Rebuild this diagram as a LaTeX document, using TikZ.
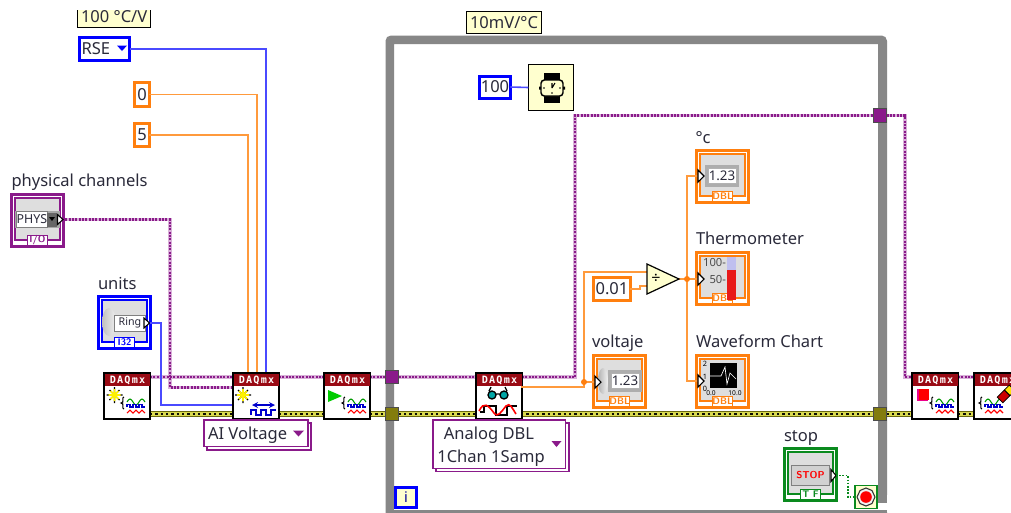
\documentclass[tikz,border=0pt]{standalone}
\usepackage{fontspec}
\setmainfont{Noto Sans}
\newfontfamily\daqf[LetterSpace=12]{DejaVu Sans Mono}
\usetikzlibrary{calc}
\definecolor{tskP}{HTML}{8A1A8A}
\definecolor{tskL}{HTML}{D8B0D8}
\definecolor{dblO}{HTML}{FF7F0E}
\definecolor{wireO}{HTML}{FF9A3C}
\definecolor{intB}{HTML}{0000FF}
\definecolor{wireB}{HTML}{4A4AFF}
\definecolor{boolG}{HTML}{0A8A1E}
\definecolor{errY}{HTML}{DADA50}
\definecolor{errD}{HTML}{6A6A10}
\definecolor{paleY}{HTML}{FFFFCF}
\definecolor{frameG}{HTML}{878787}
\definecolor{darkR}{HTML}{990A14}
\definecolor{txt}{HTML}{2A2A3A}
\definecolor{panel}{HTML}{DEDEDE}
\tikzset{
  x=0.75pt,y=-0.75pt,
  every node/.style={inner sep=0pt,outer sep=0pt,text=txt},
  lbl/.style={anchor=base west,font=\fontsize{12.4}{14}\selectfont},
  ctxt/.style={font=\fontsize{12.4}{14}\selectfont},
  const/.style={draw=#1,line width=2.25pt,fill=white,ctxt,minimum width=0pt},
  note/.style={draw=black,line width=0.75pt,fill=paleY,ctxt},
  owire/.style={draw=wireO,line width=1.2pt},
  bwire/.style={draw=wireB,line width=1.2pt},
  pwireA/.style={draw=tskL,line width=2.6pt},
  pwireB/.style={draw=tskP,line width=1.9pt,dash pattern=on 1.5pt off 1pt},
  ewire0/.style={draw=errD,line width=3.8pt},
  ewireA/.style={draw=errY,line width=2.6pt},
  ewireB/.style={draw=black!90!errD,line width=1.8pt,dash pattern=on 1.8pt off 2.2pt},
  gwire/.style={draw=boolG,line width=1.1pt,dash pattern=on 1.2pt off 1.2pt},
  tunnel/.style={draw=black!70,line width=0.9pt,fill=#1,minimum width=10pt,minimum height=10pt},
  ring/.style={draw=tskP,line width=0.9pt,fill=white},
  block/.style={draw=black,line width=1pt,fill=white,anchor=north west,minimum width=34.5pt,minimum height=34.5pt},
  termtri/.style={draw=black,line width=0.8pt,fill=white},
}
% indicator / control terminal: #1 name, #2 x, #3 y, #4 colour, #5 tag
\newcommand\termbox[5]{%
  \node[draw=#4,line width=1.9pt,fill=white,minimum width=39.2pt,minimum height=39.2pt,anchor=north west] (#1) at (#2+1.3,#3+1.3) {};
  \fill[panel,draw=#4,line width=1.2pt] (#2+4.8,#3+4.8) rectangle (#2+50.2,#3+47);
  \node[fill=white,draw=#4,line width=0.7pt,minimum width=15.5pt,minimum height=8pt,text=#4,font=\sffamily\bfseries\fontsize{7.2}{8}\selectfont] at (#2+27.5,#3+47.5) {#5};
}
\newcommand\waves[2]{%
  \begin{scope}[shift={(#1,#2)},line width=0.8pt]
    \draw[black] (-3,-5) .. controls (-6,-5) and (-2,1) .. (-6,1) .. controls (-2,1) and (-6,7) .. (-3,7);
    \draw[green!60!black] (0,0) sin (3,-3) cos (6,0) sin (9,3) cos (12,0) sin (15,-3) cos (18,0);
    \draw[blue!80!black,line width=1pt] (0,5) -- (0,2.5) -- (3,2.5) -- (3,5) -- (6,5) -- (6,2.5) -- (9,2.5) -- (9,5) -- (12,5) -- (12,2.5) -- (15,2.5) -- (15,5) -- (18,5);
    \draw[red] (0,11) -- (3,8) -- (6,11) -- (9,8) -- (12,11) -- (15,8) -- (18,11);
  \end{scope}}
\newcommand\sparkle[2]{%
  \begin{scope}[shift={(#1,#2)}]
    \draw[black,line width=0.9pt] (-8,0)--(8,0) (0,-8)--(0,8) (-5,-5)--(5,5) (-5,5)--(5,-5);
    \draw[yellow,line width=1.2pt] (-6,0)--(6,0) (0,-6)--(0,6) (-4,-4)--(4,4) (-4,4)--(4,-4);
  \end{scope}}
% DAQ block: name, x, y
\newcommand\daq[3]{%
  \node[block] (#1) at (#2,#3) {};
  \fill[darkR] (#2+1,#3+1) rectangle (#2+46,#3+13);
  \node[text=white,font=\daqf\bfseries\fontsize{7.6}{8}\selectfont] at (#2+23.5,#3+7) {DAQmx};
}
\begin{document}
\begin{tikzpicture}
\useasboundingbox (0,0) rectangle (1011,512);
\fill[white] (0,0) rectangle (1011,512);
\clip (0,0) rectangle (1011,512);

% while loop frame
\fill[frameG,even odd rule,rounded corners=4pt] (385.5,35.5) rectangle (887,530) (394,44) [sharp corners] rectangle (878,503);
\fill[white] (394,503) rectangle (890,509.5);
\fill[white] (887,495) rectangle (892,512);
\fill[frameG] (878,44) rectangle (887,503);

% tunnels coordinates
\node[tunnel=tskP] (tp1) at (392,377) {};
\node[tunnel={olive!90!black}] (te1) at (392,414) {};
\node[tunnel=tskP] (tp2) at (880,115.5) {};
\node[tunnel={olive!90!black}] (te2) at (880,414) {};

% blocks (named first so wires can refer to them)
\coordinate (d1e) at (150,377); \coordinate (d1r) at (150,414);
\coordinate (d2l) at (233,377); \coordinate (d2r) at (279,377); \coordinate (d2el) at (233,414); \coordinate (d2er) at (279,414);
\coordinate (d2in1) at (248,373); \coordinate (d2in2) at (257,373); \coordinate (d2in3) at (266,373);
\coordinate (d2c) at (233,387.5); \coordinate (d2u) at (233,405);
\coordinate (d3l) at (324,377); \coordinate (d3r) at (370,377); \coordinate (d3el) at (324,414); \coordinate (d3er) at (370,414);
\coordinate (d4p) at (476,377); \coordinate (d4el) at (476,414); \coordinate (d4er) at (521,414); \coordinate (d4o) at (521,387);
\coordinate (d5l) at (912,377); \coordinate (d5r) at (958,377); \coordinate (d5el) at (912,414); \coordinate (d5er) at (958,414);
\coordinate (d6l) at (974,377); \coordinate (d6el) at (974,414);

% error wire
\foreach \s in {ewire0,ewireA,ewireB}{
  \draw[\s] (d1r) -- (d2el);
  \draw[\s] (d2er) -- (d3el);
  \draw[\s] (d3er) -- (te1) -- (d4el);
  \draw[\s] (d4er) -- (te2) -- (d5el);
  \draw[\s] (d5er) -- (d6el);
}
% task wire
\coordinate (tb1) at (575,377); \coordinate (tb2) at (575,115.5);
\coordinate (tb3) at (905,115.5); \coordinate (tb4) at (905,377);
\coordinate (ph1) at (170,219.5); \coordinate (ph2) at (170,387.5);
\foreach \s in {pwireA,pwireB}{
  \draw[\s] (d1e) -- (d2l);
  \draw[\s] (d2r) -- (d3l);
  \draw[\s] (d3r) -- (tp1) -- (tb1) -- (tb2) -- (tp2) -- (tb3) -- (tb4) -- (d5l);
  \draw[\s] (d5r) -- (d6l);
  \draw[\s] (62,219.5) -- (ph1) -- (ph2) -- (d2c);
}
\node[tunnel=tskP] at (tp1) {};
\node[tunnel={olive!90!black}] at (te1) {};
\node[tunnel=tskP] at (tp2) {};
\node[tunnel={olive!90!black}] at (te2) {};

% top note (clipped at the top)
\begin{scope}
\clip (60,10) rectangle (170,30);
\node[note,minimum width=55pt,minimum height=15.5pt,anchor=south west] (noteC) at (77.5,27) {100 °C/V};
\end{scope}

% constants
\node[const=intB,minimum width=37.5pt,minimum height=17pt] (rse) at (104.5,49) {};
\node[ctxt,anchor=base west] (rset) at (81.5,54) {RSE};
\fill[intB] (117,45.5) -- (127,45.5) -- (122,51) -- cycle;
\node[const=dblO,minimum width=11pt,minimum height=17.5pt] (c0) at (142,94.5) {0};
\node[const=dblO,minimum width=11pt,minimum height=17.5pt] (c5) at (142,135) {5};
\draw[bwire] (rse.east) -| (d2in3);
\draw[owire] (c0.east) -| (d2in2);
\draw[owire] (c5.east) -| (d2in1);

% physical channels
\node[lbl] (lphys) at (11.5,186) {physical channels};
\termbox{phys}{10}{193}{tskP}{I/O}
\fill[black!35] (15,211) rectangle (60,228);
\node[draw=black!50,line width=.4pt,fill=white,minimum width=23pt,minimum height=12pt,font=\fontsize{9.3}{10}\selectfont] (physin) at (32,219.5) {PHYS};
\fill[black!60] (47,213) rectangle (57,227);
\fill[black] (49,217) -- (55,217) -- (52,221) -- cycle;
\draw[termtri] (57.5,214.5) -- (63,219.5) -- (57.5,224.5) -- cycle;

% units
\node[lbl] (lunits) at (98,289) {units};
\termbox{units}{97}{295}{intB}{I32}
\shade[left color=black!25,right color=black!6] (109,322) ellipse (7 and 14);
\node[draw=black!50,line width=.4pt,fill=white,minimum width=23pt,minimum height=12pt,font=\bfseries\fontsize{8}{9}\selectfont] (ringin) at (130,323) {Ring};
\draw[termtri] (144,318) -- (149.5,323) -- (144,328) -- cycle;
\coordinate (ub1) at (161,323); \coordinate (ub2) at (161,405);
\draw[bwire] (150,323) -- (ub1) -- (ub2) -- (d2u);

% DAQ blocks
\daq{d1}{104}{373}
\sparkle{114.5}{395}
\waves{127}{402}
\daq{d2}{233}{373}
\sparkle{243}{395}
\draw[blue!80!black,line width=1pt,<->,>=stealth] (252,405) -- (275,405);
\draw[blue!80!black,line width=1.1pt] (251,415) -- (251,410) -- (256,410) -- (256,415) -- (261,415) -- (261,410) -- (266,410) -- (266,415) -- (271,415) -- (271,410) -- (276,410);
\daq{d3}{324}{373}
\fill[green!80!black] (328,390) -- (328,402) -- (342,396) -- cycle;
\waves{348}{402}
\daq{d4}{476}{373}
\begin{scope}[shift={(498,395)}]
  \fill[teal!70!cyan] (-6,0) circle (4) (6,0) circle (4);
  \draw[black,line width=1pt] (-6,0) circle (4) (6,0) circle (4) (-2,-1)--(2,-1) (-9,-4)--(-7,-8) (9,-4)--(7,-8);
\end{scope}
\draw[black,line width=.9pt] (480,412) -- (484,412) -- (484,406) -- (496,406) -- (496,415) -- (507,415) -- (507,406) -- (517,406);
\draw[red,line width=1.2pt] (479,411) .. controls (484,401) and (488,405) .. (494,413) .. controls (498,418) and (501,412) .. (506,406) .. controls (510,402) and (512,408) .. (516,414);
\daq{d5}{912}{373}
\fill[magenta] (917,389) rectangle (928,401);
\fill[red] (918.5,388.5) rectangle (929,399.5);
\waves{936}{402}
\daq{d6}{974}{373}
\waves{985}{402}
\begin{scope}[shift={(1005,395)},rotate=-45]
  \fill[yellow!85!orange,draw=black,line width=.6pt] (-4,-10) rectangle (4,-3);
  \fill[red!80!black,draw=black,line width=.6pt] (-4,-3) rectangle (4,7);
\end{scope}

% rings
\fill[white] (207,423) rectangle (311,450);
\draw[ring] (207,423) rectangle (311,450);
\node[ring,anchor=north west,minimum width=78pt,minimum height=20pt] (aiv) at (204,420) {};
\node[ctxt,anchor=base west] at (208,439) {AI Voltage};
\fill[tskP] (293,430.5) -- (304,430.5) -- (298.5,436.5) -- cycle;

\fill[white] (436,423) rectangle (569,471.5);
\draw[ring] (436,423) rectangle (569,471.5);
\node[ring,anchor=north west,minimum width=99.5pt,minimum height=36.5pt] (anl) at (433,420) {};
\node[ctxt,anchor=base] at (489,439) {Analog DBL};
\node[ctxt,anchor=base] at (491,462) {1Chan 1Samp};
\fill[tskP] (551.5,441) -- (561.5,441) -- (556.5,447) -- cycle;

% timer
\node[note,minimum width=34pt,minimum height=34pt] (tmr) at (551,87.5) {};
\node[const=intB,minimum width=23pt,minimum height=16.5pt] (c100) at (495,87) {100};
\draw[bwire] (c100.east) -- (tmr.west);
\begin{scope}[shift={(552,88)}]
  \fill[black] (-8,-15) rectangle (8,15);
  \draw[fill=paleY,draw=black,line width=1.1pt,rounded corners=2.5pt] (-11,-8) rectangle (11,8);
  \fill[black] (11,-1.5) rectangle (13,1.5) (-13,-1.5) rectangle (-11,1.5);
  \draw[black,line width=.8pt] (0,0) -- (3,-5) (0,0)--(0,-5);
  \fill[black] (0,5) circle (.8) (-8,0) circle (.8) (8,0) circle (.8);
\end{scope}

% note 10mV
\node[note,minimum width=56pt,minimum height=17pt] (note10) at (504,22.5) {10mV/°C};

% numeric indicators
\termbox{volt}{592}{354}{dblO}{DBL}
\termbox{degc}{695}{149}{dblO}{DBL}
\termbox{therm}{695}{251}{dblO}{DBL}
\termbox{chart}{695}{354}{dblO}{DBL}
\node[lbl] at (592,347) {voltaje};
\node[lbl] at (695.5,143) {°c};
\node[lbl] at (696,244) {Thermometer};
\node[lbl] at (696,347) {Waveform Chart};

% numeric contents
\newcommand\numin[3]{%
  \fill[black!32] (#1-17,#2-11) rectangle (#1+17,#2+11);
  \node[draw=black!30,line width=.4pt,fill=white,minimum width=21pt,minimum height=11pt,font=\fontsize{10}{11}\selectfont] (#3) at (#1,#2) {1.23};}
\numin{722}{175.5}{degcn}
\numin{625}{381}{voltn}
\shade[left color=black!30,right color=black!5] (603,381) ellipse (5 and 13);
% thermometer
\node[font=\fontsize{8.4}{9}\selectfont,anchor=east,text=black!70] at (726,262) {100-};
\node[font=\fontsize{8.4}{9}\selectfont,anchor=east,text=black!70] at (726,279) {50-};
\fill[red!90!black!90!white] (727,270) rectangle (736,300);
\fill[black!25!blue!25] (727,257) rectangle (736,270);
% chart
\fill[black] (710,363) rectangle (737,388);
\draw[white,line width=.5pt] (710,376) -- (721,376) -- (725,367) -- (727,384) -- (730,373) -- (736,379);
\node[font=\bfseries\fontsize{5.5}{6}\selectfont,text=black] at (705,364) {2};
\node[font=\bfseries\fontsize{5.5}{6}\selectfont,text=black] at (705,377) {1};
\node[font=\bfseries\fontsize{5.5}{6}\selectfont,text=black] at (705,389) {0};
\node[font=\bfseries\fontsize{5}{6}\selectfont,text=black] at (711,393) {0.0};
\node[font=\bfseries\fontsize{5}{6}\selectfont,text=black] at (735,393) {10.0};

% divide, 0.01
\node[const=dblO,minimum width=27.5pt,minimum height=17.5pt] (c001) at (612,289) {0.01};
\coordinate (dIn1) at (647,272); \coordinate (dIn2) at (647,286);
\coordinate (dOut) at (679,279);
\coordinate (jn1) at (584,382); \coordinate (jn2) at (687,279);
\coordinate (inV) at (598,382);
\coordinate (inC) at (698,176); \coordinate (inT) at (698,279); \coordinate (inW) at (698,381);
\draw[owire] (d4o) -| (jn1) -- (inV);
\draw[owire] (jn1) |- (dIn1);
\draw[owire] (c001.east) -- (640,289) -- (640,286) -- (dIn2);
\draw[owire] (dOut) -- (inT);
\draw[owire] (inC) -| (jn2) |- (inW);
\fill[dblO] (jn1) circle (3) (jn2) circle (3);
\filldraw[fill=paleY,draw=black,line width=.9pt] (647,264) -- (647,294) -- (679,279) -- cycle;
\node[font=\fontsize{12}{12}\selectfont,text=black] (divs) at (656,279) {÷};
\foreach \p in {inC,inT,inW}{\draw[termtri] ($(\p)+(0,-6)$) -- ($(\p)+(6,0)$) -- ($(\p)+(0,6)$) -- cycle;}
\draw[termtri] (595,376) -- (601,382) -- (595,388) -- cycle;

% stop
\node[lbl] (lstop) at (784,441) {stop};
\termbox{stopb}{783}{447}{boolG}{T F}
\node[fill=black!18,draw=black!50,line width=.8pt,minimum width=29pt,minimum height=15.5pt,text=red,font=\sffamily\bfseries\fontsize{7.5}{8}\selectfont] (stopt) at (810.5,475.5) {STOP};
\draw[termtri] (831,469.5) -- (836,475.5) -- (831,481.5) -- cycle;
\node[draw=boolG,line width=1pt,fill=paleY,minimum width=16.5pt,minimum height=17pt] (cond) at (866,497) {};
\coordinate (sg1) at (848,475.5); \coordinate (sg2) at (848,497);
\draw[gwire] (836,475.5) -- (sg1) -- (sg2) -- (cond.west);
\draw[black!80,fill=black!5,line width=.8pt] (866,488) -- (872,490.5) -- (875,497) -- (872,503.5) -- (866,506) -- (860,503.5) -- (857,497) -- (860,490.5) -- cycle;
\fill[red] (866,497) circle (5.8);

% iteration terminal
\node[draw=intB,line width=2.25pt,fill=paleY,minimum width=15.5pt,minimum height=15pt,text=intB!60!black,font=\bfseries\fontsize{11}{12}\selectfont] (iter) at (406,497.5) {i};
\end{tikzpicture}
\end{document}
